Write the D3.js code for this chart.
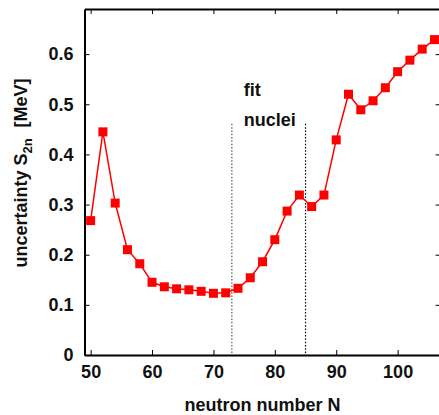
<!DOCTYPE html>
<html>
<head>
<meta charset="utf-8">
<script src="https://cdn.jsdelivr.net/npm/d3@7/dist/d3.min.js"></script>
<style>
  html, body { margin: 0; padding: 0; background: #fff; }
  svg { display: block; }
  text { font-family: "Liberation Sans", Arial, Helvetica, sans-serif; font-weight: bold; }
</style>
</head>
<body>
<svg id="chart" width="439" height="415"></svg>
<script>
// Neutron numbers and the S2n uncertainty for each
const neutrons = [50, 52, 54, 56, 58, 60, 62, 64, 66, 68, 70, 72, 74, 76, 78,
                  80, 82, 84, 86, 88, 90, 92, 94, 96, 98, 100, 102, 104, 106];
const uncertainty = [0.268, 0.445, 0.303, 0.210, 0.182, 0.145, 0.136, 0.132, 0.130, 0.127,
                     0.123, 0.124, 0.133, 0.154, 0.186, 0.230, 0.287, 0.319, 0.296, 0.319,
                     0.429, 0.520, 0.489, 0.507, 0.533, 0.565, 0.588, 0.610, 0.629];

// Range of nuclei used in the fit
const fitBounds = [73, 85];
const fitTop = 0.461;
const fitLabel = ["fit", "nuclei"];

const xTicks = [50, 60, 70, 80, 90, 100];
const yTicks = [0, 0.1, 0.2, 0.3, 0.4, 0.5, 0.6];

const svg = d3.select("#chart");
const plotL = 84.5, plotR = 440.6, plotT = 9, plotB = 355;

const x = d3.scaleLinear().domain([49, 107]).range([plotL, plotR]);
const y = d3.scaleLinear().domain([0, 0.69]).range([plotB, plotT]);

const tickLen = 5;
const fmtY = v => v === 0 ? "0" : d3.format(".1f")(v);

// Bottom axis with labels
const gx = svg.append("g").attr("transform", `translate(0,${plotB})`)
  .call(d3.axisBottom(x).tickValues(xTicks).tickSizeInner(-tickLen).tickSizeOuter(0).tickPadding(10));
// Left axis with labels
const gy = svg.append("g").attr("transform", `translate(${plotL},0)`)
  .call(d3.axisLeft(y).tickValues(yTicks).tickFormat(fmtY).tickSizeInner(-tickLen).tickSizeOuter(0).tickPadding(11));
// Top and right axes: ticks only
const gt = svg.append("g").attr("transform", `translate(0,${plotT})`)
  .call(d3.axisTop(x).tickValues(xTicks).tickSizeInner(-tickLen).tickSizeOuter(0).tickFormat(""));
const gr = svg.append("g").attr("transform", `translate(${plotR},0)`)
  .call(d3.axisRight(y).tickValues(yTicks).tickSizeInner(-tickLen).tickSizeOuter(0).tickFormat(""));

[gx, gy, gt, gr].forEach(g => {
  g.select(".domain").attr("stroke", "#000").attr("stroke-width", 2);
  g.selectAll(".tick line").attr("stroke", "#000").attr("stroke-width", 1);
  g.selectAll(".tick text").attr("fill", "#111").style("font-size", "18px")
    .style("font-family", '"Liberation Sans", Arial, sans-serif').style("font-weight", "bold");
});
gx.selectAll(".tick text").attr("dy", "0.71em");

// Dotted lines marking the fit region
svg.append("g").selectAll("line").data(fitBounds).join("line")
  .attr("x1", d => x(d)).attr("x2", d => x(d))
  .attr("y1", y(fitTop)).attr("y2", plotB)
  .attr("stroke", (d, i) => i === 0 ? "#555" : "#000")
  .attr("stroke-width", 1.2)
  .attr("stroke-dasharray", "1.5,1.8");

svg.append("g").selectAll("text").data(fitLabel).join("text")
  .attr("x", x(fitBounds[0]) + 12)
  .attr("y", (d, i) => 96 + i * 30)
  .attr("fill", "#111")
  .style("font-size", "18px")
  .text(d => d);

// Data line and square markers
const pts = neutrons.map((n, i) => [n, uncertainty[i]]);
svg.append("path").datum(pts)
  .attr("fill", "none").attr("stroke", "#ff0000").attr("stroke-width", 1.5)
  .attr("d", d3.line().x(d => x(d[0])).y(d => y(d[1])));

const ms = 9;
svg.append("g").selectAll("rect").data(pts).join("rect")
  .attr("x", d => x(d[0]) - ms / 2).attr("y", d => y(d[1]) - ms / 2)
  .attr("width", ms).attr("height", ms).attr("fill", "#ff0000");

// Axis titles
svg.append("text")
  .attr("x", (plotL + plotR) / 2).attr("y", 411)
  .attr("text-anchor", "middle").attr("fill", "#111")
  .style("font-size", "18px")
  .text("neutron number N");

const yt = svg.append("text")
  .attr("transform", "translate(27,173) rotate(-90)")
  .attr("text-anchor", "middle").attr("fill", "#111")
  .style("font-size", "18px");
yt.append("tspan").text("uncertainty S");
yt.append("tspan").attr("dy", 5).style("font-size", "13px").text("2n");
yt.append("tspan").attr("dy", -5).attr("dx", 6).text(" [MeV]");
</script>
</body>
</html>
